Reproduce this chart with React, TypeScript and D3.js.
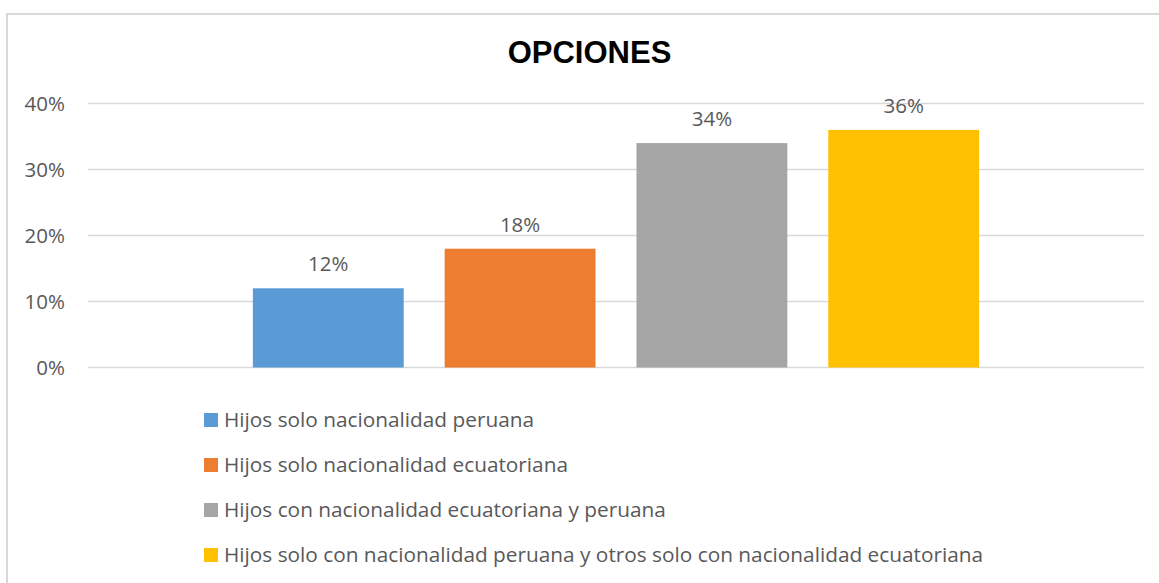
import React, { useEffect, useRef } from "react";
import * as d3 from "d3";

const categories = ["Opciones"];
const seriesNames = [
  "Hijos solo nacionalidad peruana",
  "Hijos solo nacionalidad ecuatoriana",
  "Hijos con nacionalidad ecuatoriana y peruana",
  "Hijos solo con nacionalidad peruana y otros solo con nacionalidad ecuatoriana",
];
const seriesValues = [0.12, 0.18, 0.34, 0.36];
const seriesColors = ["#5B9BD5", "#ED7D31", "#A5A5A5", "#FFC000"];
const yTicks = [0, 0.1, 0.2, 0.3, 0.4];

export default function App() {
  const chartRef = useRef<SVGSVGElement>(null);

  useEffect(() => {
    const svg = d3.select(chartRef.current);
    svg.selectAll("*").remove();

    const width = 1159;
    const font = "'Open Sans', sans-serif";
    const textColor = "#595959";

    const plot = { left: 88, right: 1144, top: 103.5, bottom: 367.5 };

    // chart frame (only the top and left edges show in the picture)
    svg
      .append("rect")
      .attr("x", 7)
      .attr("y", 14)
      .attr("width", width + 10)
      .attr("height", 600)
      .attr("fill", "#fff")
      .attr("stroke", "#d9d9d9")
      .attr("stroke-width", 2);

    const y = d3.scaleLinear().domain([0, 0.4]).range([plot.bottom, plot.top]);

    const x0 = d3
      .scaleBand()
      .domain(categories)
      .range([plot.left, plot.right])
      .paddingInner(0.185)
      .paddingOuter(0.185);

    const x1 = d3
      .scaleBand()
      .domain(seriesNames)
      .range([0, x0.bandwidth()])
      .paddingInner(0.2135)
      .paddingOuter(0);

    // gridlines
    svg
      .append("g")
      .selectAll("line")
      .data(yTicks)
      .enter()
      .append("line")
      .attr("x1", plot.left)
      .attr("x2", plot.right)
      .attr("y1", (d) => y(d))
      .attr("y2", (d) => y(d))
      .attr("stroke", "#d9d9d9")
      .attr("stroke-width", 1.5);

    // y tick labels
    svg
      .append("g")
      .selectAll("text")
      .data(yTicks)
      .enter()
      .append("text")
      .attr("x", 65)
      .attr("y", (d) => y(d))
      .attr("dy", "0.35em")
      .attr("text-anchor", "end")
      .attr("font-family", font)
      .attr("font-size", 20.5)
      .attr("fill", textColor)
      .text((d) => d3.format(".0%")(d));

    const rows = seriesNames.map((name, i) => ({
      name,
      value: seriesValues[i],
      color: seriesColors[i],
    }));

    const g = svg
      .append("g")
      .attr("transform", "translate(" + x0(categories[0]) + ",0)");

    g.selectAll("rect")
      .data(rows)
      .enter()
      .append("rect")
      .attr("x", (d) => x1(d.name))
      .attr("y", (d) => y(d.value))
      .attr("width", x1.bandwidth())
      .attr("height", (d) => y(0) - y(d.value))
      .attr("fill", (d) => d.color);

    g.selectAll("text")
      .data(rows)
      .enter()
      .append("text")
      .attr("x", (d) => x1(d.name) + x1.bandwidth() / 2)
      .attr("y", (d) => y(d.value) - 17)
      .attr("text-anchor", "middle")
      .attr("font-family", font)
      .attr("font-size", 20.5)
      .attr("fill", textColor)
      .text((d) => d3.format(".0%")(d.value));

    // title
    svg
      .append("text")
      .attr("x", 589.5)
      .attr("y", 63)
      .attr("text-anchor", "middle")
      .attr("font-family", "'Liberation Sans', Arial, sans-serif")
      .attr("font-weight", "bold")
      .attr("font-size", 31)
      .attr("fill", "#000")
      .text("OPCIONES");

    // legend
    const legend = svg
      .append("g")
      .selectAll("g")
      .data(rows)
      .enter()
      .append("g")
      .attr("transform", (d, i) => "translate(204," + (420 + i * 45) + ")");

    legend
      .append("rect")
      .attr("x", 0)
      .attr("y", -7)
      .attr("width", 14)
      .attr("height", 14)
      .attr("fill", (d) => d.color);

    legend
      .append("text")
      .attr("x", 20)
      .attr("y", 0)
      .attr("dy", "0.35em")
      .attr("font-family", font)
      .attr("font-size", 20.8)
      .attr("fill", textColor)
      .text((d) => d.name);
  }, []);

  return (
    <svg
      ref={chartRef}
      width="1159"
      height="583"
      style={{ position: "absolute", left: 0, top: 0, background: "#fff" }}
    ></svg>
  );
}
